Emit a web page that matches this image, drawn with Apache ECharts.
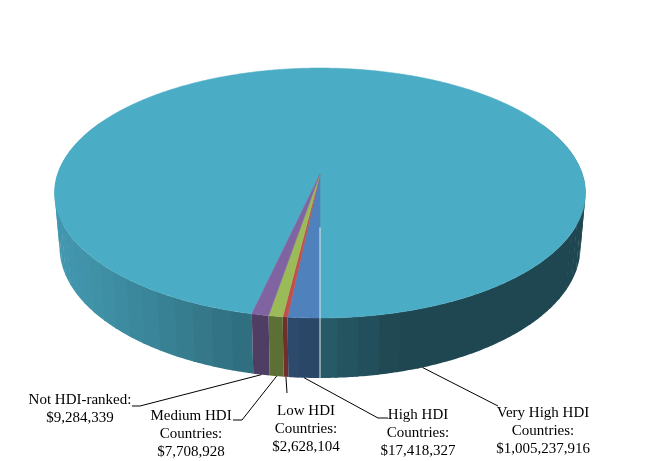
<!DOCTYPE html>
<html>
<head>
<meta charset="UTF-8">
<title>HDI pie</title>
<script src="https://cdn.jsdelivr.net/npm/echarts@6/dist/echarts.min.js"></script>
<style>
    body {
        margin: 0;
        padding: 0;
        background-color: #fff;
    }
    #pie {
        width: 649px;
        height: 461px;
    }
</style>
</head>
<body>
<div id="pie"></div>
<script>
    // data, in the order the slices go round
    var categories = ['Very High HDI\nCountries:', 'High HDI\nCountries:', 'Low HDI\nCountries:', 'Medium HDI\nCountries:', 'Not HDI-ranked:'];
    var values = [1005237916, 17418327, 2628104, 7708928, 9284339];

    // styles and label layout
    var colors = ['#4BACC6', '#4F81BD', '#C0504D', '#9BBB59', '#8064A2'];
    var labelPos = [[543, 413], [418, 415], [306, 411], [191, 416], [80, 400]];
    var labelElbow = [[[498, 406]], [[388, 418], [378, 418]], [[287, 393]], [[233, 420], [242, 420]], [[132, 406], [140, 406]]];
    var leaderAngle = [340, null, null, null, null];

    // camera for the tilted pie
    var CX = 320, CY = 174, FOC = 1527, DIST = 5.82, THICK = 0.2357;
    var SIN_T = 0.4653, COS_T = 0.8851;

    function project(deg, r, y) {
        var a = deg * Math.PI / 180;
        var X = -r * Math.sin(a), Z = r * Math.cos(a);
        var d = DIST - Z * COS_T - y * SIN_T;
        return [CX + FOC * X / d, CY + FOC * (Z * SIN_T - y * COS_T) / d];
    }

    function darker(hex, f) {
        var n = parseInt(hex.slice(1), 16);
        var r = Math.round(((n >> 16) & 255) * f);
        var g = Math.round(((n >> 8) & 255) * f);
        var b = Math.round((n & 255) * f);
        return 'rgb(' + r + ',' + g + ',' + b + ')';
    }

    function wallFactor(deg) {
        var a = deg * Math.PI / 180;
        var dot = 0.97 * Math.sin(a) + 0.26 * Math.cos(a);
        return 0.41 + 0.47 * Math.max(0, dot);
    }

    var total = values.reduce(function (s, v) { return s + v; }, 0);
    var start = [], span = [];
    var acc = 360 * (1 - values[0] / total);
    values.forEach(function (v) {
        start.push(acc);
        span.push(v / total * 360);
        acc += v / total * 360;
    });

    function arc(a0, a1, r, y) {
        var pts = [];
        var n = Math.max(2, Math.ceil((a1 - a0) / 0.5));
        for (var k = 0; k <= n; k++) {
            pts.push(project(a0 + (a1 - a0) * k / n, r, y));
        }
        return pts;
    }

    function renderSide(params, api) {
        var i = params.dataIndex;
        var a0 = start[i], a1 = start[i] + span[i];
        var children = [];
        var step = 4;
        for (var a = a0; a < a1; a += step) {
            var b = Math.min(a + step, a1);
            var mid = (a + b) / 2;
            if (Math.cos(mid * Math.PI / 180) < -0.45) continue;
            // a little overlap into the next band hides the seams
            var b2 = Math.min(b + 0.4, a1);
            var pts = arc(a, b2, 1, 0).concat(arc(a, b2, 1, -THICK).reverse());
            children.push({
                type: 'polygon',
                shape: {points: pts},
                style: {fill: darker(colors[i], wallFactor(mid))}
            });
        }
        return {type: 'group', children: children};
    }

    function money(v) {
        return '$' + v.toLocaleString('en-US');
    }

    function renderTop(params, api) {
        var i = params.dataIndex;
        var v = api.value(0);
        var a0 = start[i], a1 = start[i] + span[i];
        var pts = [project(0, 0, 0)].concat(arc(a0, a1, 1, 0));
        var children = [{
            type: 'polygon',
            shape: {points: pts},
            style: {fill: colors[i], stroke: colors[i], lineWidth: 0.5}
        }];

        // thin light edge where the first small slice meets the big one
        if (i === 1) {
            var edge = [project(a0, 0.41, 0), project(a0, 1, 0), project(a0, 1, -THICK)];
            children.push({
                type: 'polyline',
                shape: {points: edge},
                style: {stroke: '#e4edf1', lineWidth: 1, fill: null}
            });
        }

        var ang = leaderAngle[i] !== null ? leaderAngle[i] : (a0 + a1) / 2;
        var line = labelElbow[i].concat([project(ang, 1, -THICK)]);
        children.push({
            type: 'polyline',
            shape: {points: line},
            style: {stroke: '#000', lineWidth: 1, fill: null}
        });

        children.push({
            type: 'text',
            style: {
                text: categories[i] + '\n' + money(v),
                x: labelPos[i][0],
                y: labelPos[i][1] - 9,
                align: 'center',
                verticalAlign: 'top',
                fontFamily: '"Liberation Serif", "Times New Roman", serif',
                fontSize: 15,
                lineHeight: 18,
                fill: '#000'
            }
        });
        return {type: 'group', children: children};
    }

    var seriesData = values.map(function (v, i) {
        return {name: categories[i], value: v};
    });

    var chart = echarts.init(document.getElementById('pie'), null, {renderer: 'canvas'});
    chart.setOption({
        backgroundColor: '#fff',
        animation: false,
        series: [
            {type: 'custom', coordinateSystem: 'none', z: 1, silent: true, data: seriesData, renderItem: renderSide},
            {type: 'custom', coordinateSystem: 'none', z: 2, silent: true, data: seriesData, renderItem: renderTop}
        ]
    });
</script>
</body>
</html>
